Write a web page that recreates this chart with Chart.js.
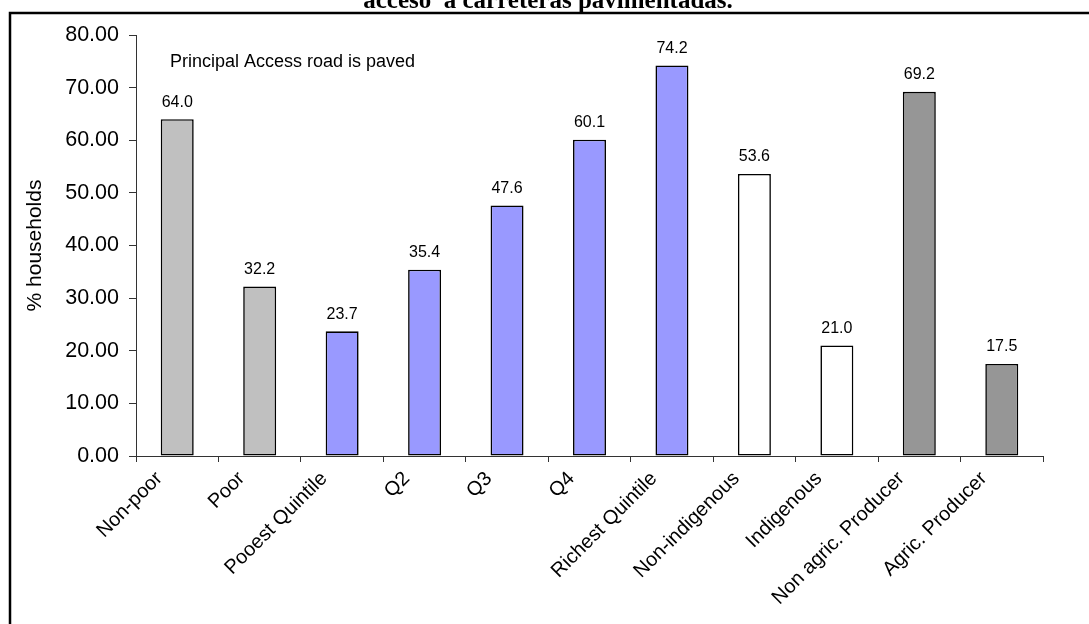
<!DOCTYPE html>
<html>
<head>
<meta charset="utf-8">
<script src="https://cdn.jsdelivr.net/npm/chart.js@4/dist/chart.umd.min.js"></script>
<style>
  html, body { margin: 0; padding: 0; background: #fff; }
  #wrap { width: 1089px; height: 624px; position: relative; }
</style>
</head>
<body>
<div id="wrap"><canvas id="myChart" width="1089" height="624"></canvas></div>
<script>
let ctx = document.querySelector("#myChart");

const CATEGORIES = [
  "Non-poor", "Poor", "Pooest Quintile", "Q2", "Q3", "Q4",
  "Richest Quintile", "Non-indigenous", "Indigenous",
  "Non agric. Producer", "Agric. Producer",
];
const PAVED = [64.0, 32.2, 23.7, 35.4, 47.6, 60.1, 74.2, 53.6, 21.0, 69.2, 17.5];
const BAR_COLORS = [
  "#C0C0C0", "#C0C0C0",
  "#9999FF", "#9999FF", "#9999FF", "#9999FF", "#9999FF",
  "#FFFFFF", "#FFFFFF",
  "#969696", "#969696",
];
const Y_TICKS = [0, 10, 20, 30, 40, 50, 60, 70, 80];
const TITLE_TEXT = "acceso  a carreteras pavimentadas.";
const NOTE_TEXT = "Principal Access road is paved";

const FONT = "'Liberation Sans', Arial, sans-serif";

// frame, cut-off title, note and value labels
const extras = {
  id: "extras",
  beforeDraw(chart) {
    const c = chart.ctx;
    c.save();
    c.fillStyle = "#fff";
    c.fillRect(0, 0, chart.width, chart.height);
    c.strokeStyle = "#000";
    c.lineWidth = 2.5;
    c.beginPath();
    c.moveTo(10, chart.height + 5);
    c.lineTo(10, 13);
    c.lineTo(chart.width + 5, 13);
    c.stroke();
    c.fillStyle = "#000";
    c.font = "bold 25px 'Liberation Serif', 'Times New Roman', serif";
    c.textAlign = "center";
    c.textBaseline = "alphabetic";
    c.fillText(TITLE_TEXT, 548, 8);
    c.restore();
  },
  afterDatasetsDraw(chart) {
    const c = chart.ctx;
    c.save();
    c.fillStyle = "#000";
    c.font = "16px " + FONT;
    c.textAlign = "center";
    c.textBaseline = "bottom";
    chart.getDatasetMeta(0).data.forEach((bar, i) => {
      c.fillText(PAVED[i].toFixed(1), bar.x, bar.y - 9);
    });
    c.font = "18px " + FONT;
    c.textAlign = "left";
    c.textBaseline = "middle";
    c.fillText(NOTE_TEXT, 170, 62);
    c.restore();
  },
};

new Chart(ctx, {
  type: "bar",
  data: {
    labels: CATEGORIES,
    datasets: [
      {
        data: PAVED,
        backgroundColor: BAR_COLORS,
        borderColor: "#000",
        borderWidth: 1.6,
        borderSkipped: false,
        barPercentage: 0.4,
        categoryPercentage: 1,
      },
    ],
  },
  options: {
    responsive: false,
    animation: false,
    events: [],
    layout: {
      padding: { left: 10, top: 35, right: 46, bottom: 0 },
    },
    plugins: {
      legend: { display: false },
      tooltip: { enabled: false },
    },
    scales: {
      x: {
        afterFit(scale) {
          scale.height = 168;
        },
        grid: {
          drawOnChartArea: false,
          tickLength: 6,
          color: "#333",
          offset: true,
        },
        border: { color: "#333" },
        ticks: {
          color: "#000",
          font: { family: FONT, size: 20 },
          maxRotation: 45,
          minRotation: 45,
          autoSkip: false,
          padding: 5,
          labelOffset: -18,
        },
      },
      y: {
        min: 0,
        max: 80,
        afterFit(scale) {
          scale.width = 126;
        },
        afterBuildTicks(scale) {
          scale.ticks = Y_TICKS.map((v) => ({ value: v }));
        },
        title: {
          display: true,
          text: "% households",
          color: "#000",
          font: { family: FONT, size: 21 },
          padding: { top: 13, bottom: 0 },
        },
        grid: {
          drawOnChartArea: false,
          tickLength: 7,
          color: "#333",
        },
        border: { color: "#333" },
        ticks: {
          color: "#000",
          font: { family: FONT, size: 21.5 },
          padding: 10,
          callback: (v) => Number(v).toFixed(2),
        },
      },
    },
  },
  plugins: [extras],
});
</script>
</body>
</html>
